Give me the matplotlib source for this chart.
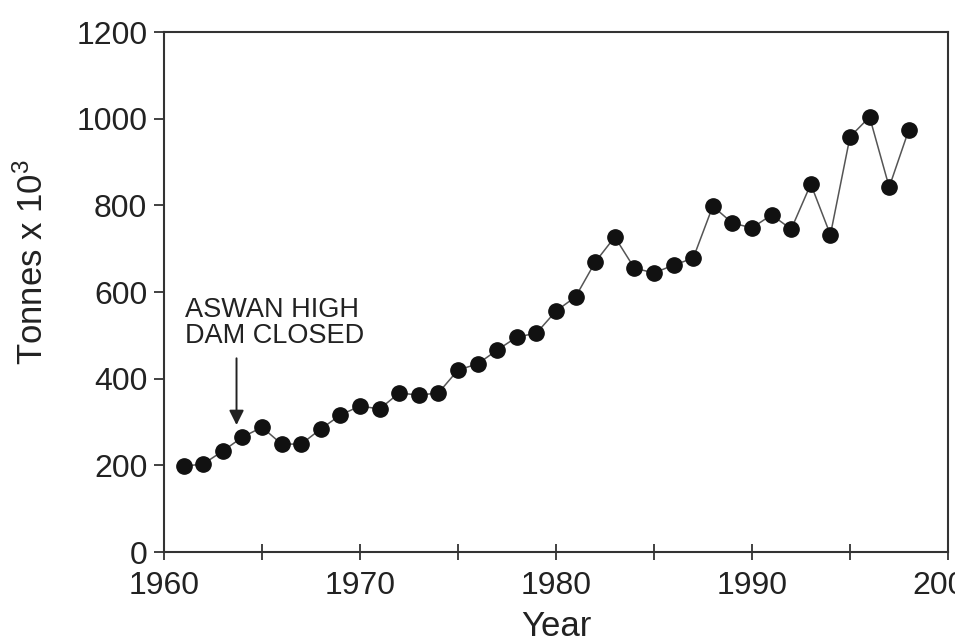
import matplotlib
matplotlib.use("Agg")
import matplotlib.pyplot as plt
from matplotlib.ticker import MultipleLocator

plt.rcParams['font.family'] = ['Liberation Sans', 'DejaVu Sans']
plt.rcParams['mathtext.fontset'] = 'custom'
plt.rcParams['mathtext.rm'] = 'Liberation Sans'
plt.rcParams['mathtext.it'] = 'Liberation Sans'

# yearly catch, thousand tonnes
years = list(range(1961, 1999))
tonnes = [198, 203, 233, 265, 288, 249, 249, 284, 316, 337,
          330, 367, 362, 367, 420, 434, 466, 496, 505, 556,
          589, 669, 727, 655, 644, 662, 678, 798, 759, 748,
          778, 745, 849, 732, 958, 1004, 842, 974]

dam_year = 1963.7
dam_label = "ASWAN HIGH\nDAM CLOSED"

fig = plt.figure(figsize=(9.55, 6.42), dpi=100)
ax = fig.add_axes([164 / 955, 90 / 642, 784 / 955, 520 / 642])

ax.plot(years, tonnes, color='#555555', lw=1.1, marker='o', ms=11,
        mfc='#111111', mec='#111111', zorder=3)

ax.set_xlim(1960, 2000)
ax.set_ylim(0, 1200)
ax.xaxis.set_major_locator(MultipleLocator(10))
ax.xaxis.set_minor_locator(MultipleLocator(5))
ax.yaxis.set_major_locator(MultipleLocator(200))

for s in ax.spines.values():
    s.set_color('#333333')
    s.set_linewidth(1.5)

ax.tick_params(axis='x', which='both', direction='inout', length=11, width=1.3,
               color='#333333', labelsize=23, pad=8, labelcolor='#222222')
ax.tick_params(axis='y', direction='out', length=7, width=1.3,
               color='#333333', labelsize=23, pad=5, labelcolor='#222222')
for lab in ax.get_xticklabels():
    lab.set_clip_on(False)

ax.set_xlabel("Year", fontsize=25, color='#222222', labelpad=7)
fig.text(33 / 955, 1 - 262 / 642, "Tonnes x 10$^3$", rotation=90,
         fontsize=25, color='#222222', ha='center', va='center')

# dam closure marker
ax.annotate('', xy=(dam_year, 293), xytext=(dam_year, 447),
            arrowprops=dict(arrowstyle='-|>', color='#222222', lw=1.4,
                            mutation_scale=22, shrinkA=0, shrinkB=0))
ax.text(1961.05, 482, dam_label, fontsize=19.5, color='#222222',
        ha='left', va='baseline', linespacing=1.02)

fig.savefig("out.png", dpi=100)
